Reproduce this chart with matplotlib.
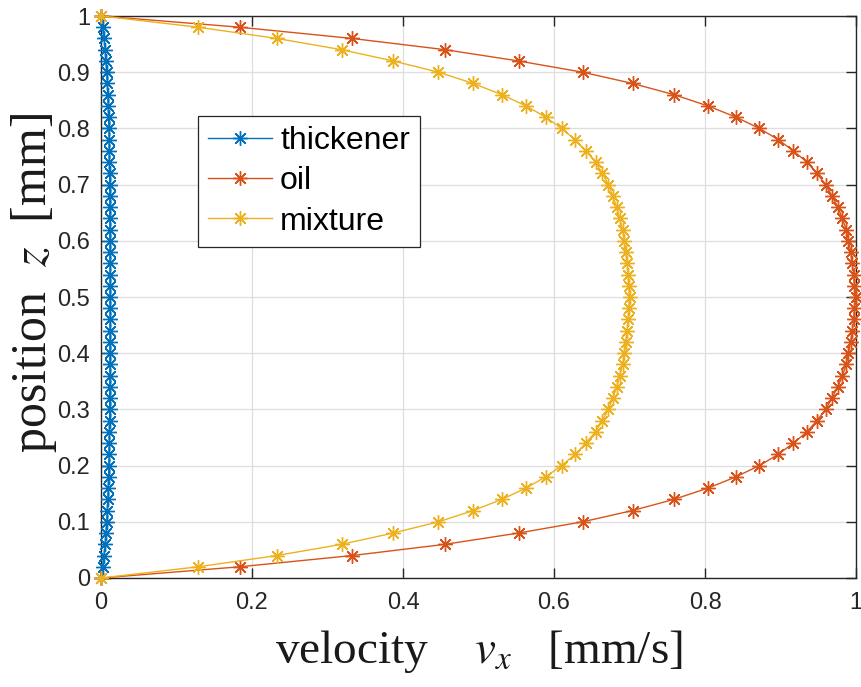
import matplotlib
matplotlib.use("Agg")
import matplotlib.pyplot as plt

# position z [mm]
z = [0.00, 0.02, 0.04, 0.06, 0.08, 0.10, 0.12, 0.14, 0.16, 0.18,
     0.20, 0.22, 0.24, 0.26, 0.28, 0.30, 0.32, 0.34, 0.36, 0.38,
     0.40, 0.42, 0.44, 0.46, 0.48, 0.50, 0.52, 0.54, 0.56, 0.58,
     0.60, 0.62, 0.64, 0.66, 0.68, 0.70, 0.72, 0.74, 0.76, 0.78,
     0.80, 0.82, 0.84, 0.86, 0.88, 0.90, 0.92, 0.94, 0.96, 0.98, 1.00]

thickener = [0, 0.0022, 0.0040, 0.0055, 0.0066, 0.0077, 0.0084, 0.0091, 0.0096, 0.0101,
             0.0105, 0.0108, 0.0110, 0.0112, 0.0114, 0.0115, 0.0116, 0.0117, 0.0118, 0.0118,
             0.0119, 0.0119, 0.0119, 0.0120, 0.0120, 0.0120, 0.0120, 0.0120, 0.0119, 0.0119,
             0.0119, 0.0118, 0.0118, 0.0117, 0.0116, 0.0115, 0.0114, 0.0112, 0.0110, 0.0108,
             0.0105, 0.0101, 0.0096, 0.0091, 0.0084, 0.0077, 0.0066, 0.0055, 0.0040, 0.0022, 0]

oil = [0, 0.184, 0.333, 0.456, 0.553, 0.638, 0.704, 0.759, 0.804, 0.841,
       0.872, 0.897, 0.917, 0.935, 0.948, 0.960, 0.968, 0.976, 0.982, 0.987,
       0.990, 0.993, 0.995, 0.997, 0.998, 1.000, 0.998, 0.997, 0.995, 0.993,
       0.990, 0.987, 0.982, 0.976, 0.968, 0.960, 0.948, 0.935, 0.917, 0.897,
       0.872, 0.841, 0.804, 0.759, 0.704, 0.638, 0.553, 0.456, 0.333, 0.184, 0]

mixture = [0, 0.129, 0.233, 0.319, 0.387, 0.447, 0.493, 0.531, 0.563, 0.589,
           0.610, 0.628, 0.642, 0.655, 0.664, 0.672, 0.678, 0.683, 0.687, 0.691,
           0.693, 0.695, 0.697, 0.698, 0.699, 0.700, 0.699, 0.698, 0.697, 0.695,
           0.693, 0.691, 0.687, 0.683, 0.678, 0.672, 0.664, 0.655, 0.642, 0.628,
           0.610, 0.589, 0.563, 0.531, 0.493, 0.447, 0.387, 0.319, 0.233, 0.129, 0]

series_names = ["thickener", "oil", "mixture"]
series_colors = ["#0072BD", "#D95319", "#EDB120"]

x_ticks = [0, 0.2, 0.4, 0.6, 0.8, 1.0]
x_ticklabels = ["0", "0.2", "0.4", "0.6", "0.8", "1"]
y_ticks = [0, 0.1, 0.2, 0.3, 0.4, 0.5, 0.6, 0.7, 0.8, 0.9, 1.0]
y_ticklabels = ["0", "0.1", "0.2", "0.3", "0.4", "0.5", "0.6", "0.7", "0.8", "0.9", "1"]

plt.rcParams['font.family'] = ['Liberation Sans', 'DejaVu Sans']
plt.rcParams['mathtext.fontset'] = 'stix'

W, H = 861, 687
fig = plt.figure(figsize=(W / 100, H / 100), dpi=100)
ax = fig.add_axes([101 / W, (H - 578) / H, (856 - 101) / W, (578 - 16) / H])

asterisk = (8, 2, 0)
for vals, name, col in zip([thickener, oil, mixture], series_names, series_colors):
    ax.plot(vals, z, color=col, lw=1.0, marker=asterisk, markersize=10.5,
            markeredgewidth=1.0, label=name, clip_on=False, zorder=3)

ax.set_xlim(0, 1)
ax.set_ylim(0, 1)
ax.set_xticks(x_ticks)
ax.set_xticklabels(x_ticklabels)
ax.set_yticks(y_ticks)
ax.set_yticklabels(y_ticklabels)
ax.grid(True, color='#dedede', lw=0.9)
ax.set_axisbelow(True)

for s in ax.spines.values():
    s.set_color('#262626')
    s.set_linewidth(1.0)
ax.tick_params(axis='both', direction='in', length=7, width=1.0, color='#262626',
               top=True, right=True, labelsize=17, labelcolor='#262626')
ax.tick_params(axis='x', pad=10)
ax.tick_params(axis='y', pad=8)

ax.set_xlabel(r'velocity    $v_{x}$   [mm/s]', family='Liberation Serif', fontsize=34,
              labelpad=10, color='#1a1a1a')
ax.set_ylabel(r'position  $z$  [mm]', family='Liberation Serif', fontsize=36,
              color='#1a1a1a')
ax.yaxis.set_label_coords(-0.055, 0.525)

leg = ax.legend(loc='upper left', bbox_to_anchor=((198 - 101) / 755, (578 - 116) / 562),
                fontsize=23, frameon=True, fancybox=False, framealpha=1,
                edgecolor='#262626', handlelength=2.0, handletextpad=0.25,
                labelspacing=0.32, borderpad=0.32, borderaxespad=0)
leg.get_frame().set_linewidth(0.9)

fig.savefig('out.png', dpi=100)
